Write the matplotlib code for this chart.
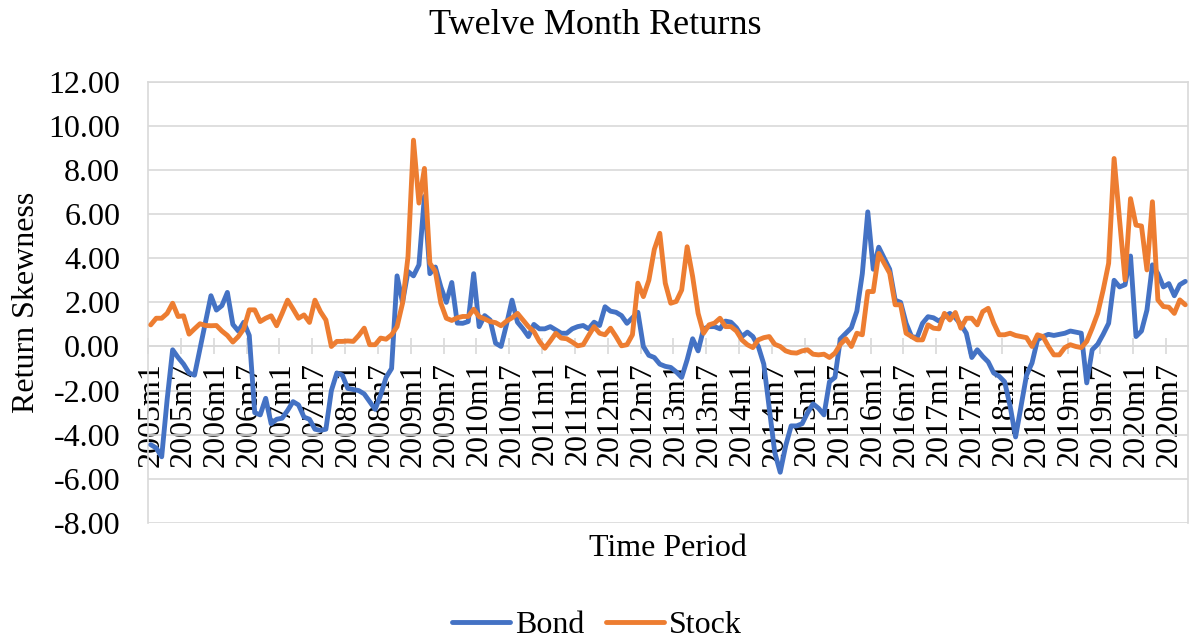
import matplotlib
matplotlib.use('Agg')
import matplotlib.pyplot as plt
import numpy as np
from matplotlib.ticker import FormatStrFormatter

plt.rcParams['font.family'] = ['Liberation Serif', 'DejaVu Serif']
plt.rcParams['axes.unicode_minus'] = False

n_months = 190
periods = [f"{2005 + k // 12}m{k % 12 + 1}" for k in range(n_months)]

bond = [
    -4.45, -4.6, -5.0, -2.4, -0.15, -0.5, -0.8, -1.2, -1.3, -0.1, 1.1, 2.3,
    1.65, 1.85, 2.45, 1.0, 0.7, 1.1, 0.5, -3.0, -3.1, -2.35, -3.5, -3.3,
    -3.25, -2.9, -2.5, -2.65, -3.2, -3.3, -3.75, -3.8, -3.75, -2.0, -1.2, -1.3,
    -1.9, -1.95, -2.0, -2.15, -2.5, -2.85, -2.2, -1.4, -1.0, 3.2, 2.0, 3.4,
    3.2, 3.7, 6.8, 3.3, 3.6, 2.7, 2.0, 2.9, 1.06, 1.05, 1.13, 3.3,
    0.9, 1.4, 1.2, 0.15, 0.0, 1.0, 2.1, 1.1, 0.8, 0.45, 1.0, 0.8,
    0.8, 0.9, 0.75, 0.6, 0.6, 0.8, 0.9, 0.95, 0.8, 1.1, 0.95, 1.8,
    1.6, 1.55, 1.4, 1.05, 1.3, 1.55, 0.0, -0.4, -0.5, -0.8, -0.9, -0.95,
    -1.15, -1.4, -0.6, 0.35, -0.2, 0.8, 0.9, 0.9, 0.8, 1.15, 1.1, 0.85,
    0.45, 0.65, 0.45, 0.0, -0.8, -2.8, -4.8, -5.7, -4.5, -3.6, -3.6, -3.5,
    -3.0, -2.6, -2.8, -3.1, -1.6, -1.4, 0.35, 0.6, 0.85, 1.6, 3.3, 6.1,
    3.5, 4.5, 4.0, 3.5, 2.1, 2.0, 1.05, 0.45, 0.4, 1.05, 1.35, 1.3,
    1.15, 1.35, 1.5, 1.3, 1.0, 0.6, -0.5, -0.15, -0.45, -0.7, -1.2, -1.35,
    -1.6, -2.7, -4.1, -2.7, -1.3, -0.75, 0.3, 0.45, 0.55, 0.5, 0.55, 0.6,
    0.7, 0.65, 0.6, -1.65, -0.15, 0.1, 0.55, 1.05, 3.0, 2.7, 2.8, 4.1,
    0.45, 0.7, 1.65, 3.7, 3.3, 2.7, 2.85, 2.3, 2.8, 2.95,
]

stock = [
    0.98, 1.28, 1.28, 1.5, 1.96, 1.36, 1.39, 0.56, 0.8, 1.03, 0.95, 0.94,
    0.95, 0.7, 0.5, 0.2, 0.45, 0.8, 1.66, 1.66, 1.13, 1.28, 1.39, 0.94,
    1.5, 2.1, 1.7, 1.28, 1.43, 1.09, 2.1, 1.58, 1.2, 0.0, 0.23, 0.23,
    0.25, 0.23, 0.5, 0.83, 0.08, 0.08, 0.38, 0.33, 0.53, 0.9, 1.96, 4.07,
    9.35, 6.5, 8.07, 3.77, 3.4, 1.96, 1.28, 1.18, 1.3, 1.36, 1.36, 1.69,
    1.35, 1.25, 1.13, 1.08, 0.94, 1.15, 1.3, 1.5, 1.2, 0.9, 0.68, 0.23,
    -0.08, 0.25, 0.6, 0.38, 0.35, 0.2, 0.03, 0.08, 0.5, 0.9, 0.6, 0.53,
    0.83, 0.45, 0.03, 0.08, 0.53, 2.87, 2.26, 3.0, 4.4, 5.13, 2.87, 1.96,
    2.04, 2.56, 4.52, 3.17, 1.5, 0.6, 0.98, 1.06, 1.28, 0.9, 0.9, 0.7,
    0.3, 0.08, -0.05, 0.3, 0.4, 0.45, 0.1, 0.0, -0.2, -0.28, -0.3, -0.2,
    -0.15, -0.35, -0.38, -0.35, -0.5, -0.3, 0.1, 0.35, 0.0, 0.6, 0.53, 2.49,
    2.49, 4.22, 3.77, 3.32, 1.89, 1.89, 0.6, 0.45, 0.3, 0.3, 0.98, 0.83,
    0.8, 1.5, 1.2, 1.54, 0.83, 1.28, 1.28, 0.98, 1.58, 1.73, 1.06, 0.53,
    0.53, 0.6, 0.5, 0.45, 0.4, 0.0, 0.53, 0.45, 0.0, -0.38, -0.38, -0.05,
    0.08, 0.0, -0.05, 0.23, 0.83, 1.5, 2.56, 3.77, 8.52, 5.73, 3.02, 6.7,
    5.5, 5.46, 3.47, 6.56, 2.11, 1.81, 1.78, 1.5, 2.11, 1.89,
]

label_step = 6
y_ticks = [-8, -6, -4, -2, 0, 2, 4, 6, 8, 10, 12]

W, H = 1190, 639
fig = plt.figure(figsize=(W / 100, H / 100), dpi=100)
ax = fig.add_axes([148 / W, 1 - 523 / H, (1188 - 148) / W, (523 - 81.7) / H])

x = np.arange(len(bond))
ax.plot(x, bond, color='#4472C4', lw=3.5, label='Bond',
        solid_joinstyle='round', solid_capstyle='round', zorder=3)
ax.plot(x, stock, color='#ED7D31', lw=3.5, label='Stock',
        solid_joinstyle='round', solid_capstyle='round', zorder=3)

ax.set_xlim(-0.5, len(bond) - 0.5)
ax.set_ylim(-8, 12)
ax.set_yticks(y_ticks)
ax.yaxis.set_major_formatter(FormatStrFormatter('%.2f'))
ax.grid(axis='y', color='#D9D9D9', lw=1.2)
ax.set_axisbelow(True)

for s in ['left', 'right', 'top']:
    ax.spines[s].set_color('#D9D9D9')
    ax.spines[s].set_linewidth(1.2)
ax.spines['bottom'].set_position(('data', 0))
ax.spines['bottom'].set_color('#D9D9D9')
ax.spines['bottom'].set_linewidth(1.2)

label_idx = list(range(0, len(bond), label_step))
ax.set_xticks(label_idx)
ax.set_xticklabels([periods[i] for i in label_idx], rotation=90)
ax.set_xticks(np.arange(-0.5, len(bond), label_step), minor=True)
ax.tick_params(axis='x', which='major', length=0, pad=11, labelsize=23)
ax.tick_params(axis='x', which='minor', length=11, direction='inout',
               color='#D9D9D9', width=1.2)
ax.tick_params(axis='y', length=0, pad=20, labelsize=23)

fig.text(0.5, 1 - 25 / H, 'Twelve Month Returns', ha='center', va='center', fontsize=26)
fig.text(27 / W, 1 - 302 / H, 'Return Skewness', rotation=90, ha='center', va='center', fontsize=23)
fig.text(668 / W, 1 - 548 / H, 'Time Period', ha='center', va='center', fontsize=23)

fig.legend(loc='center', bbox_to_anchor=(0.5 + 2 / W, 1 - 625 / H), ncol=2, frameon=False,
           fontsize=23, handlelength=1.8, handletextpad=0.15, columnspacing=0.7)

fig.savefig('out.png', dpi=100)
